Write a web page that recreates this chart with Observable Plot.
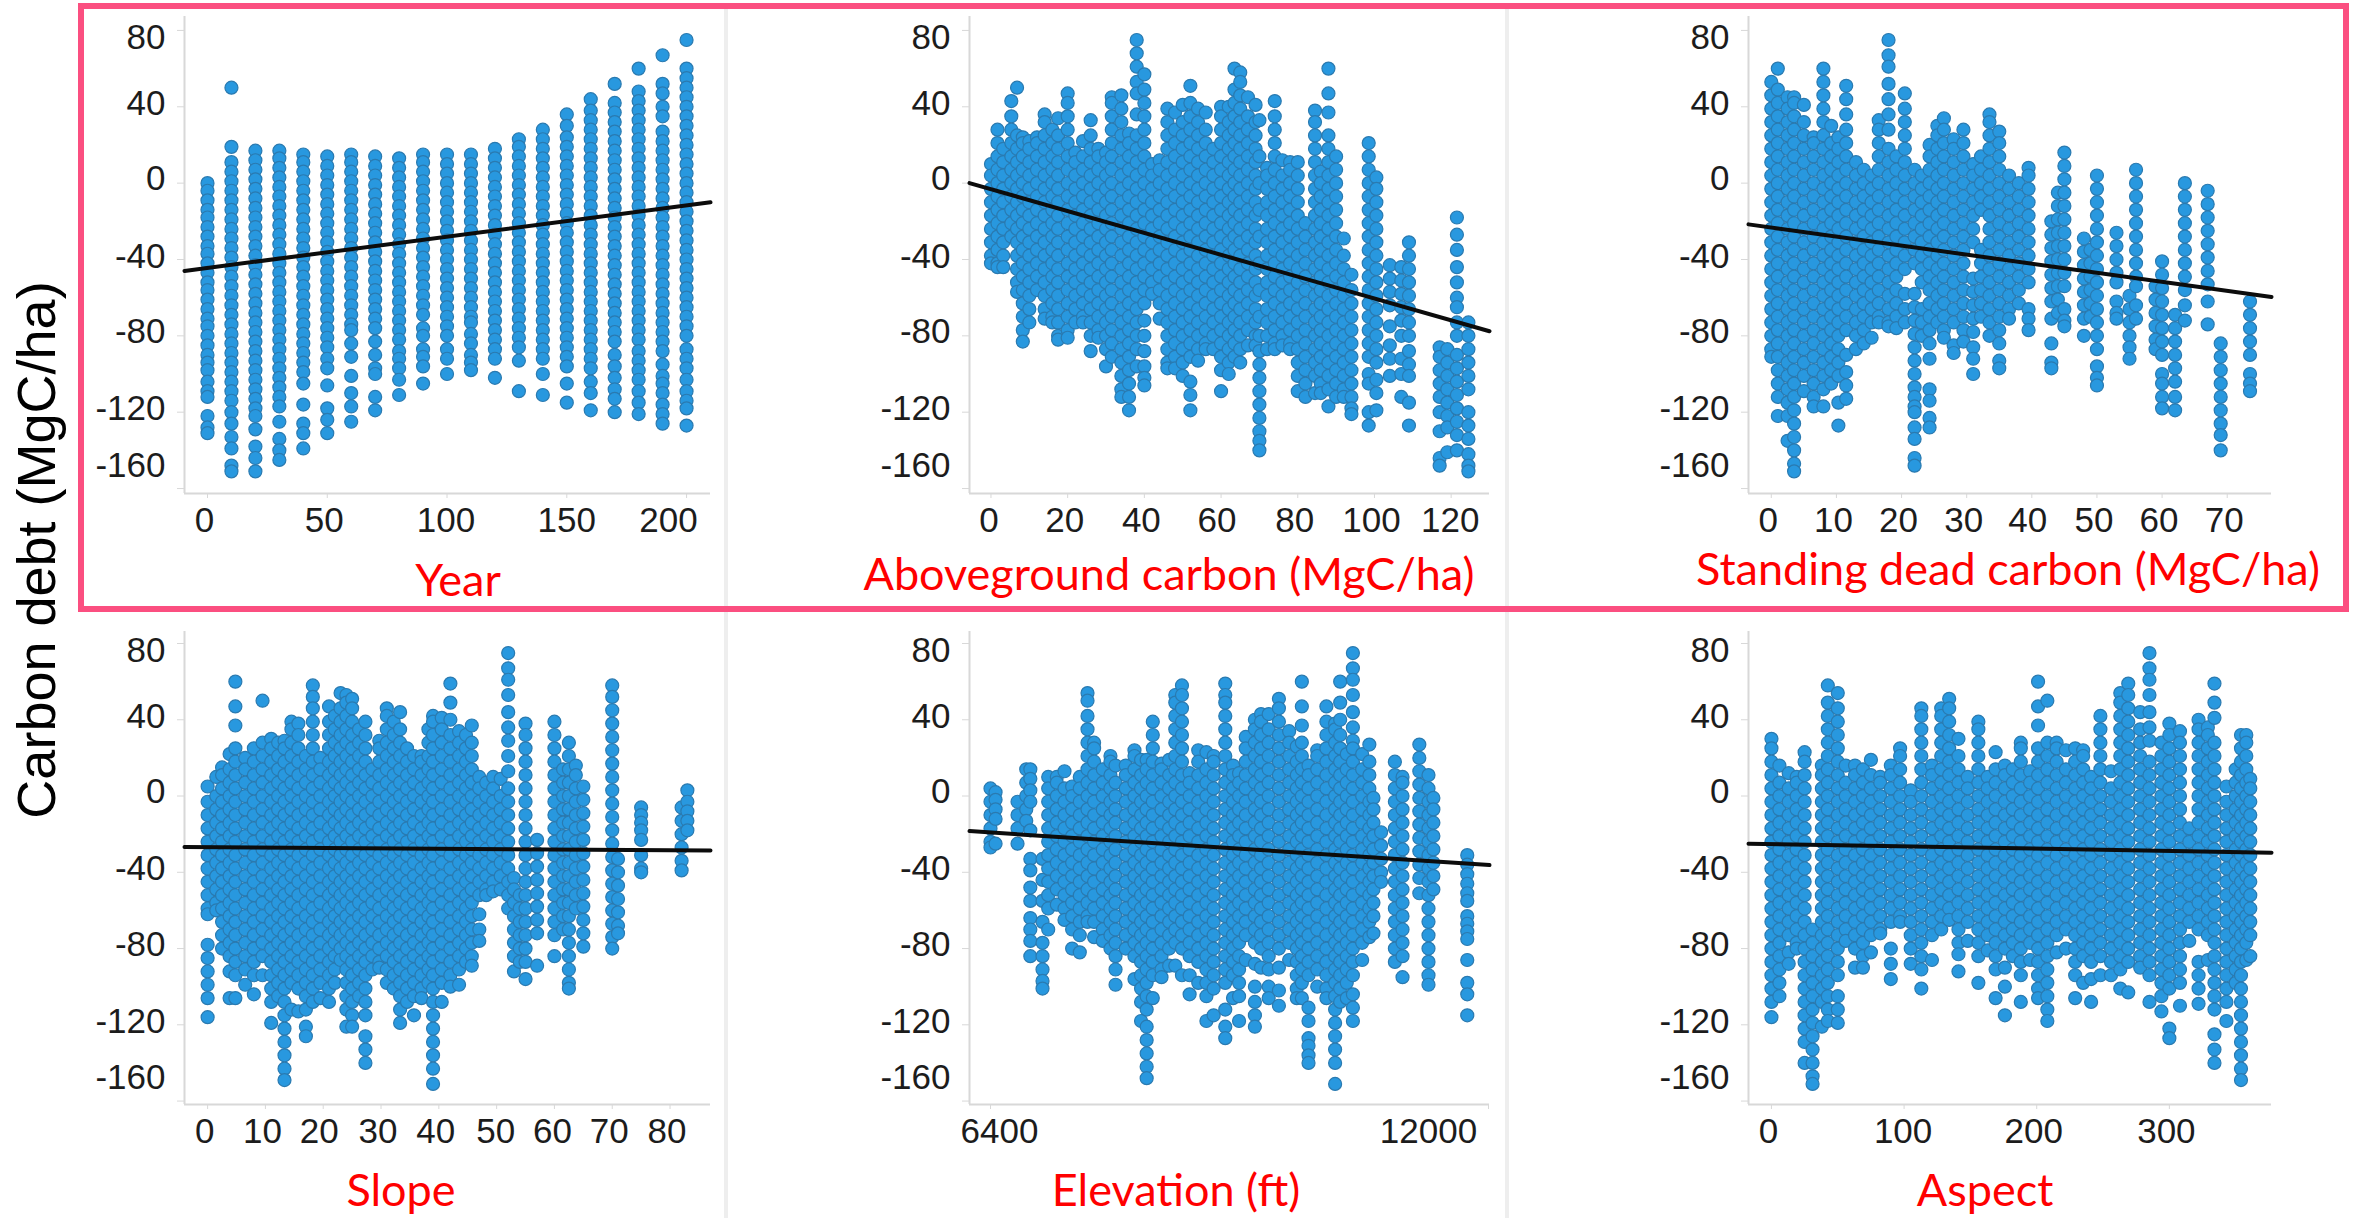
<!DOCTYPE html>
<html><head><meta charset="utf-8">
<script src="https://cdn.jsdelivr.net/npm/d3@7"></script>
<script src="https://cdn.jsdelivr.net/npm/@observablehq/plot@0.6"></script>
<style>
html,body{margin:0;padding:0;background:#fff}
#page{position:relative;width:2356px;height:1218px;overflow:hidden;background:#fff}
#page svg{position:absolute;overflow:visible;background:transparent}
.sep{position:absolute;width:4px;background:#eeeeee}
.frame{position:absolute;border:6px solid #fb4f80;box-sizing:border-box;pointer-events:none}
.ttl{position:absolute;transform:translate(-50%,-50%);color:#ff0000;font-family:Lato,sans-serif;white-space:nowrap}
.ylab{position:absolute;left:36px;top:550px;transform:translate(-50%,-50%) rotate(-90deg);font-family:"Liberation Sans",sans-serif;font-size:54px;color:#000;white-space:nowrap}
</style></head><body><div id="page"></div>
<script>
const yTicks=[80,40,0,-40,-80,-120,-160];
const yLabelShift=[7,-3,-4,-3,-4,-3,-23];
const yearTicks=[0,50,100,150,200];
const agcTicks=[0,20,40,60,80,100,120];
const sdcTicks=[0,10,20,30,40,50,60,70];
const slopeTicks=[0,10,20,30,40,50,60,70,80];
const elevTicks=[6400,12000];
const aspectTicks=[0,100,200,300];
const yearLine=[[-9.6,-46],[210,-10]];
const agcLine=[[-5.6,0],[130,-77.6]];
const sdcLine=[[-3.5,-21.6],[76.8,-59.6]];
const slopeLine=[[-4,-26.7],[87,-28.6]];
const elevLine=[[6164,-18.4],[12011,-36.2]];
const aspectLine=[[-17.3,-25],[377,-29.7]];

const yearCols=[
[0,[0,-4,-9,-14,-18,-23,-28,-33,-37,-42,-47,-52,-56,-61,-66,-71,-75,-80,-85,-90,-94,-98,-104,-109,-112,-122,-128,-131]],
[10,[50,19,11,6,1,-4,-9,-14,-19,-24,-29,-34,-39,-44,-49,-54,-59,-64,-69,-74,-79,-84,-89,-94,-99,-104,-109,-114,-120,-126,-133,-139,-148,-151]],
[20,[17,12,7,2,-3,-8,-13,-18,-23,-28,-33,-38,-43,-48,-53,-58,-63,-68,-73,-78,-83,-88,-93,-98,-103,-108,-113,-118,-122,-129,-138,-144,-151]],
[30,[17,13,8,3,-2,-7,-12,-17,-22,-27,-32,-37,-42,-47,-52,-57,-62,-67,-72,-77,-82,-87,-92,-97,-102,-107,-112,-117,-125,-134,-140,-145]],
[40,[15,11,6,1,-4,-9,-14,-19,-24,-29,-34,-39,-44,-49,-54,-59,-64,-69,-74,-79,-84,-89,-94,-99,-105,-116,-126,-131,-139]],
[50,[14,9,4,-1,-6,-11,-16,-21,-26,-31,-36,-41,-46,-51,-56,-61,-66,-71,-76,-81,-86,-92,-97,-106,-118,-124,-131]],
[60,[15,11,6,1,-4,-9,-14,-19,-24,-29,-34,-39,-44,-49,-54,-59,-64,-69,-74,-77,-84,-91,-101,-110,-117,-125]],
[70,[14,9,4,-1,-6,-11,-16,-21,-26,-31,-36,-41,-46,-51,-56,-61,-66,-71,-76,-83,-90,-97,-100,-112,-119]],
[80,[13,8,3,-2,-7,-12,-17,-22,-27,-32,-37,-42,-47,-52,-57,-62,-67,-72,-77,-82,-88,-92,-97,-103,-111]],
[90,[15,11,6,1,-4,-9,-14,-19,-24,-29,-34,-39,-44,-49,-54,-59,-64,-69,-76,-80,-87,-91,-96,-105]],
[100,[15,10,5,0,-5,-10,-15,-20,-25,-30,-35,-40,-45,-50,-55,-60,-65,-70,-75,-80,-87,-92,-100]],
[110,[15,10,5,0,-5,-10,-15,-20,-25,-30,-35,-40,-45,-50,-55,-60,-65,-70,-73,-79,-84,-90,-94,-98]],
[120,[18,13,8,3,-2,-7,-12,-17,-22,-27,-32,-37,-42,-47,-52,-57,-62,-67,-72,-77,-82,-87,-92,-102]],
[130,[23,19,14,9,4,-1,-6,-11,-16,-21,-26,-31,-36,-41,-46,-51,-56,-61,-66,-71,-76,-81,-86,-93,-109]],
[140,[28,23,18,13,8,3,-2,-7,-12,-17,-22,-27,-32,-37,-42,-47,-52,-57,-62,-67,-72,-77,-82,-87,-92,-100,-111]],
[150,[36,30,24,19,14,9,4,-1,-6,-11,-16,-21,-26,-31,-36,-41,-46,-51,-56,-61,-66,-71,-76,-81,-86,-91,-96,-105,-115]],
[160,[44,38,33,28,23,18,13,8,3,-2,-7,-12,-17,-22,-27,-32,-37,-42,-47,-52,-57,-62,-67,-72,-77,-82,-87,-92,-97,-104,-110,-119]],
[170,[52,42,37,32,27,22,17,12,7,2,-3,-8,-13,-18,-23,-28,-33,-38,-43,-48,-53,-58,-63,-68,-73,-78,-83,-90,-96,-102,-108,-113,-120]],
[180,[60,48,43,38,33,28,23,18,13,8,3,-2,-7,-12,-17,-22,-27,-32,-37,-42,-47,-52,-57,-62,-67,-72,-77,-82,-88,-93,-98,-103,-109,-115,-121]],
[190,[67,52,47,40,35,27,22,17,12,7,2,-3,-8,-13,-18,-23,-28,-33,-38,-43,-48,-53,-58,-63,-68,-73,-78,-83,-88,-95,-101,-105,-110,-116,-121,-126]],
[200,[75,60,55,50,45,40,35,30,25,20,15,10,5,0,-5,-10,-15,-20,-25,-30,-35,-40,-45,-50,-55,-60,-65,-70,-75,-80,-87,-92,-97,-103,-109,-114,-118,-127]]
];

const agcCols=[
[0,[10,4,-3,-10,-17,-24,-31,-38,-42]],
[1.7,[28,21,14,7,0,-7,-14,-21,-28,-35,-42,-44]],
[3.2,[18,11,4,-3,-10,-17,-24,-31,-38,-44]],
[5.3,[43,35,28,21,14,7,0,-7,-14,-21,-28]],
[6.8,[50,25,18,11,4,-3,-10,-17,-24,-31,-38,-45,-52,-57]],
[8.3,[24,21,14,7,0,-7,-14,-21,-28,-35,-42,-49,-56,-63,-70,-77,-83]],
[10,[22,18,11,4,-3,-10,-17,-24,-31,-38,-45,-52,-59,-66,-73]],
[12,[24,21,14,7,0,-7,-14,-21,-28,-35,-42,-49,-56]],
[14,[36,32,25,18,11,4,-3,-10,-17,-24,-31,-38,-45,-52,-59,-66,-71]],
[16,[28,21,14,7,0,-7,-14,-21,-28,-35,-42,-49,-56,-63,-70,-73]],
[17.5,[34,25,18,11,4,-3,-10,-17,-24,-31,-38,-45,-52,-59,-66,-73,-80,-82]],
[20,[47,42,35,28,21,14,7,0,-7,-14,-21,-28,-35,-42,-49,-56,-63,-70,-77,-81]],
[22,[16,11,4,-3,-10,-17,-24,-31,-38,-45,-52,-59,-66,-73]],
[24,[22,14,7,0,-7,-14,-21,-28,-35,-42,-49,-56,-63,-70,-73]],
[26,[33,25,18,11,4,-3,-10,-17,-24,-31,-38,-45,-52,-59,-66,-73,-80,-88]],
[28,[18,14,7,0,-7,-14,-21,-28,-35,-42,-49,-56,-63,-70,-77,-81]],
[30,[16,11,4,-3,-10,-17,-24,-31,-38,-45,-52,-59,-66,-73,-80,-87,-96]],
[31.5,[45,42,35,28,21,14,7,0,-7,-14,-21,-28,-35,-42,-49,-56,-63,-70,-77,-84,-91]],
[34,[46,39,32,25,18,11,4,-3,-10,-17,-24,-31,-38,-45,-52,-59,-66,-73,-80,-87,-94,-101,-108,-112]],
[36,[26,21,14,7,0,-7,-14,-21,-28,-35,-42,-49,-56,-63,-70,-77,-84,-91,-98,-105,-112,-119]],
[38,[75,68,61,53,47,36,25,18,11,4,-3,-10,-17,-24,-31,-38,-45,-52,-59,-66,-73,-80,-87,-96]],
[40,[57,49,42,35,28,21,14,7,0,-7,-14,-21,-28,-35,-42,-49,-56,-63,-72,-80,-88,-96,-102,-106]],
[42,[10,4,-3,-10,-17,-24,-31,-38,-45,-52,-58]],
[44,[12,7,0,-7,-14,-21,-28,-35,-42,-49,-56,-63,-71]],
[46,[39,32,25,18,11,4,-3,-10,-17,-24,-31,-38,-45,-52,-59,-66,-73,-80,-87,-94,-97]],
[48,[37,28,21,14,7,0,-7,-14,-21,-28,-35,-42,-49,-56,-63,-70,-77,-84,-91,-97]],
[50,[41,32,25,18,11,4,-3,-10,-17,-24,-31,-38,-45,-52,-59,-66,-73,-80,-87,-94,-101]],
[52,[51,42,35,28,21,14,7,0,-7,-14,-21,-28,-35,-42,-49,-56,-63,-70,-77,-84,-91,-104,-111,-119]],
[54,[39,32,25,18,11,4,-3,-10,-17,-24,-31,-38,-45,-52,-59,-66,-73,-80,-87,-93]],
[56,[37,28,21,14,7,0,-7,-14,-21,-28,-35,-42,-49,-56,-63,-70,-77,-84,-87]],
[58,[18,11,4,-3,-10,-17,-24,-31,-38,-45,-52,-59,-66,-73,-80,-87]],
[60,[40,35,28,21,14,7,0,-7,-14,-21,-28,-35,-42,-49,-56,-63,-70,-77,-84,-91,-98,-109]],
[62,[40,32,25,18,11,4,-3,-10,-17,-24,-31,-38,-45,-52,-59,-66,-73,-80,-87,-94,-100]],
[63.5,[60,49,42,35,28,21,14,7,0,-7,-14,-21,-28,-35,-42,-49,-56,-63,-70,-77,-84,-91]],
[65,[58,53,46,39,32,25,18,11,4,-3,-10,-17,-24,-31,-38,-45,-52,-59,-66,-73,-80,-87,-94]],
[67,[45,35,28,21,14,7,0,-7,-14,-21,-28,-35,-42,-49,-56,-63,-70,-77,-85]],
[69,[41,32,25,18,11,4,-3,-10,-17,-24,-31,-38,-45,-52,-59,-66,-73,-80,-85]],
[70,[33,14,0,-14,-28,-42,-56,-70,-80,-88,-95,-102,-109,-116,-123,-130,-135,-140]],
[72,[8,4,-3,-10,-17,-24,-31,-38,-45,-52,-59,-66,-73,-80,-87]],
[74,[43,35,28,21,14,7,0,-7,-14,-21,-28,-35,-42,-49,-56,-63,-70,-77,-84,-87]],
[76,[12,4,-3,-10,-17,-24,-31,-38,-45,-52,-59,-66,-73,-80,-85]],
[78,[11,7,0,-7,-14,-21,-28,-35,-42,-49,-56,-63,-70,-77,-84,-87]],
[80,[11,4,-3,-10,-17,-24,-31,-38,-45,-52,-59,-66,-73,-80,-87,-94,-101,-109]],
[82,[-21,-28,-35,-42,-49,-56,-63,-70,-77,-84,-91,-98,-105,-112]],
[84.5,[38,32,25,18,11,4,-3,-10,-17,-24,-31,-38,-45,-52,-59,-66,-73,-80,-87,-94,-101,-110]],
[86,[6,0,-7,-14,-21,-28,-35,-42,-49,-56,-63,-70,-77,-84,-91,-98,-105,-110]],
[88,[60,47,37,25,18,11,4,-3,-10,-17,-24,-31,-38,-45,-52,-59,-66,-73,-80,-87,-94,-101,-108,-117]],
[90,[14,7,0,-7,-14,-21,-28,-35,-42,-49,-56,-63,-70,-77,-84,-91,-98,-105,-112]],
[92,[-29,-38,-45,-52,-59,-66,-73,-80,-87,-94,-101,-108,-112]],
[94,[-48,-56,-63,-70,-77,-84,-91,-98,-105,-112,-118,-121]],
[98.5,[21,14,7,0,-7,-14,-21,-28,-35,-42,-49,-56,-63,-70,-77,-84,-91,-100,-105,-120,-127]],
[100.5,[3,-3,-10,-17,-24,-31,-38,-45,-52,-59,-66,-73,-80,-87,-94,-103,-110,-119]],
[104,[-43,-50,-57,-64,-75,-85,-92,-101]],
[107,[-44,-51,-58,-65,-72,-80,-92,-100,-112]],
[109,[-31,-38,-45,-52,-59,-66,-73,-80,-88,-95,-101,-115,-127]],
[117,[-86,-91,-98,-105,-112,-120,-130,-144,-148]],
[119,[-87,-94,-101,-108,-115,-122,-128,-141]],
[121.5,[-18,-27,-35,-44,-52,-60,-65,-73,-80,-90,-97,-104,-111,-118,-125,-132,-140]],
[124.5,[-73,-80,-87,-94,-101,-108,-120,-127,-134,-142,-148,-151]]
];

const sdcCols=[
[0,[53,46,39,32,25,18,11,4,-3,-10,-17,-24,-31,-38,-45,-52,-59,-66,-73,-80,-87,-91]],
[1,[60,49,42,35,28,21,14,7,0,-7,-14,-21,-28,-35,-42,-49,-56,-63,-70,-77,-84,-91,-98,-105,-112,-122]],
[2.5,[45,39,32,25,18,11,4,-3,-10,-17,-24,-31,-38,-45,-52,-59,-66,-73,-80,-87,-94,-101,-108,-115,-122,-135]],
[3.5,[45,42,35,28,21,14,7,0,-7,-14,-21,-28,-35,-42,-49,-56,-63,-70,-77,-84,-91,-98,-105,-112,-119,-126,-133,-140,-147,-151]],
[5,[41,32,25,18,11,4,-3,-10,-17,-24,-31,-38,-45,-52,-59,-66,-73,-80,-87,-94,-101,-109]],
[6.5,[24,21,14,7,0,-7,-14,-21,-28,-35,-42,-49,-56,-63,-70,-77,-84,-91,-98,-105,-112,-117]],
[8,[60,53,46,39,32,25,18,11,4,-3,-10,-17,-24,-31,-38,-45,-52,-59,-66,-73,-80,-87,-94,-101,-108,-117]],
[9.2,[30,21,14,7,0,-7,-14,-21,-28,-35,-42,-49,-56,-63,-70,-77,-84,-91,-98,-105]],
[10.3,[24,18,11,4,-3,-10,-17,-24,-31,-38,-45,-52,-59,-66,-73,-80,-87,-94,-101,-115,-127]],
[11.5,[51,44,36,28,21,14,7,0,-7,-14,-21,-28,-35,-42,-49,-56,-63,-70,-77,-90,-99,-106,-113]],
[13,[11,4,-3,-10,-17,-24,-31,-38,-45,-52,-59,-66,-73,-80,-87]],
[14.2,[7,0,-7,-14,-21,-28,-35,-42,-49,-56,-63,-70,-77,-84]],
[15.4,[4,-3,-10,-17,-24,-31,-38,-45,-52,-59,-66,-73,-81]],
[16.5,[33,28,21,14,7,0,-7,-14,-21,-28,-35,-42,-49,-56,-63,-70,-73]],
[18,[75,67,61,52,44,36,28,18,11,4,-3,-10,-17,-24,-31,-38,-45,-52,-59,-66,-73,-75]],
[19.2,[14,7,0,-7,-14,-21,-28,-35,-42,-49,-56,-63,-70,-76]],
[20.5,[47,39,32,25,18,11,4,-3,-10,-17,-24,-31,-38,-45,-58,-66,-73]],
[22,[7,0,-7,-14,-21,-28,-35,-42,-58,-65,-72,-79,-86,-93,-100,-107,-112,-117,-120,-128,-134,-144,-148]],
[23.1,[4,-3,-10,-17,-24,-31,-38,-45,-52,-66,-73,-80]],
[24.3,[20,14,7,0,-7,-14,-21,-28,-35,-42,-49,-56,-63,-70,-77,-84,-92,-108,-114,-123,-128]],
[25.5,[30,25,18,11,4,-3,-10,-17,-24,-31,-38,-45,-52,-59,-66,-73]],
[26.5,[34,28,21,14,7,0,-7,-14,-21,-28,-35,-42,-49,-56,-63,-70,-77,-81]],
[28,[23,18,11,4,-3,-10,-17,-24,-31,-38,-45,-52,-59,-66,-73,-85,-89]],
[29.5,[28,21,14,7,0,-7,-14,-21,-28,-35,-42,-49,-56,-63,-70,-77,-83]],
[31,[10,4,-3,-10,-17,-24,-31,-50,-57,-64,-71,-78,-86,-92,-100]],
[32.2,[14,7,0,-7,-14,-35,-42,-49,-56,-63,-70]],
[33.5,[36,32,25,18,11,4,-3,-10,-17,-24,-31,-38,-45,-52,-59,-66,-73,-80]],
[35,[27,21,14,7,0,-7,-14,-21,-28,-35,-42,-49,-56,-63,-70,-77,-84,-93,-97]],
[36.5,[4,-3,-10,-17,-24,-31,-38,-45,-52,-59,-66,-71]],
[38,[0,-7,-14,-21,-28,-35,-42,-49,-56,-63]],
[39.5,[8,4,-3,-10,-17,-24,-31,-38,-45,-52,-66,-71,-77]],
[43,[-20,-27,-34,-41,-48,-55,-62,-71,-84,-94,-97]],
[44,[-5,-12,-19,-26,-33,-40,-47,-54,-61,-68]],
[45,[16,9,2,-5,-12,-19,-26,-33,-40,-47,-54,-66,-72,-75]],
[48,[-29,-36,-43,-50,-57,-64,-71,-80]],
[49,[-35,-42,-49,-56,-63,-70]],
[50,[4,-3,-10,-17,-24,-31,-38,-45,-52,-59,-66,-73,-80,-87,-96,-102,-106]],
[53,[-26,-33,-40,-47,-52,-62,-68,-71]],
[55,[-59,-66,-73,-80,-86,-92]],
[56,[7,0,-7,-14,-21,-28,-35,-42,-49,-54,-64,-71]],
[59,[-54,-61,-68,-75,-82,-87]],
[60,[-41,-48,-55,-62,-69,-76,-83,-90,-100,-105,-112,-118]],
[62,[-69,-76,-83,-90,-97,-104,-112,-119]],
[63.5,[0,-7,-14,-21,-28,-35,-42,-49,-56,-64,-72]],
[67,[-4,-11,-18,-25,-32,-39,-46,-53,-62,-74]],
[69,[-84,-91,-98,-105,-112,-119,-126,-132,-140]],
[73.5,[-62,-69,-76,-83,-90,-100,-105,-109]]
];

const slopeCols=[
[0,[5,-3,-10,-17,-24,-31,-38,-45,-52,-59,-62,-78,-85,-92,-99,-106,-116]],
[1.5,[10,0,-7,-14,-21,-28,-35,-42,-49,-56,-60]],
[2.5,[15,11,4,-3,-10,-17,-24,-31,-38,-45,-52,-59,-66,-73,-80]],
[3.8,[22,14,7,0,-7,-14,-21,-28,-35,-42,-49,-56,-63,-70,-77,-84,-92,-106]],
[4.8,[60,47,37,25,18,11,4,-3,-10,-17,-24,-31,-38,-45,-52,-59,-66,-73,-80,-87,-94,-106]],
[6.5,[20,14,7,0,-7,-14,-21,-28,-35,-42,-49,-56,-63,-70,-77,-84,-91,-99]],
[8,[25,18,11,4,-3,-10,-17,-24,-31,-38,-45,-52,-59,-66,-73,-80,-87,-94,-104]],
[9.5,[50,28,21,14,7,0,-7,-14,-21,-28,-35,-42,-49,-56,-63,-70,-77,-84,-94]],
[11,[30,25,18,11,4,-3,-10,-17,-24,-31,-38,-45,-52,-59,-66,-73,-80,-87,-94,-101,-108,-119]],
[12.2,[28,21,14,7,0,-7,-14,-21,-28,-35,-42,-49,-56,-63,-70,-77,-84,-91,-98,-105]],
[13.3,[29,25,18,11,4,-3,-10,-17,-24,-31,-38,-45,-52,-59,-66,-73,-80,-87,-94,-101,-108,-115,-122,-129,-136,-143,-149]],
[14.5,[39,35,28,21,14,7,0,-7,-14,-21,-28,-35,-42,-49,-56,-63,-70,-77,-84,-91,-98,-112]],
[15.7,[38,32,25,18,11,4,-3,-10,-17,-24,-31,-38,-45,-52,-59,-66,-73,-80,-87,-94,-101,-113]],
[17,[21,14,7,0,-7,-14,-21,-28,-35,-42,-49,-56,-63,-70,-77,-84,-91,-98,-105,-112,-121,-126]],
[18.2,[58,52,46,39,32,25,18,11,4,-3,-10,-17,-24,-31,-38,-45,-52,-59,-66,-73,-80,-87,-94,-101,-108]],
[19.5,[20,14,7,0,-7,-14,-21,-28,-35,-42,-49,-56,-63,-70,-77,-84,-91,-98,-106]],
[21,[47,39,32,25,18,11,4,-3,-10,-17,-24,-31,-38,-45,-52,-59,-66,-73,-80,-87,-94,-101,-108]],
[22,[42,35,28,21,14,7,0,-7,-14,-21,-28,-35,-42,-49,-56,-63,-70,-77,-84,-91,-98]],
[23,[54,46,39,32,25,18,11,4,-3,-10,-17,-24,-31,-38,-45,-52,-59,-66,-73,-80,-86]],
[24,[53,49,42,35,28,21,14,7,0,-7,-14,-21,-28,-35,-42,-49,-56,-63,-70,-77,-84,-91,-98,-105,-112,-121]],
[25,[51,46,39,32,25,18,11,4,-3,-10,-17,-24,-31,-38,-45,-52,-59,-66,-73,-80,-87,-94,-101,-108,-115,-121]],
[26.2,[35,28,21,14,7,0,-7,-14,-21,-28,-35,-42,-49,-56,-63,-70,-77,-84,-91,-98,-105]],
[27.3,[39,32,25,18,11,4,-3,-10,-17,-24,-31,-38,-45,-52,-59,-66,-73,-80,-87,-94,-101,-108,-115,-126,-133,-140]],
[28.5,[14,7,0,-7,-14,-21,-28,-35,-42,-49,-56,-63,-70,-77,-84,-91]],
[29.7,[29,25,18,11,4,-3,-10,-17,-24,-31,-38,-45,-52,-59,-66,-73,-80,-87,-90]],
[31,[46,42,35,28,21,14,7,0,-7,-14,-21,-28,-35,-42,-49,-56,-63,-70,-77,-84,-91,-98]],
[32.2,[39,32,25,18,11,4,-3,-10,-17,-24,-31,-38,-45,-52,-59,-66,-73,-80,-87,-94,-101]],
[33.3,[44,35,28,21,14,7,0,-7,-14,-21,-28,-35,-42,-49,-56,-63,-70,-77,-84,-91,-98,-105,-112,-119]],
[34.5,[25,18,11,4,-3,-10,-17,-24,-31,-38,-45,-52,-59,-66,-73,-80,-87,-94,-101,-108]],
[35.7,[21,14,7,0,-7,-14,-21,-28,-35,-42,-49,-56,-63,-70,-77,-84,-91,-98,-105,-115]],
[37,[21,18,11,4,-3,-10,-17,-24,-31,-38,-45,-52,-59,-66,-73,-80,-87,-94,-101,-106]],
[38.2,[35,28,21,14,7,0,-7,-14,-21,-28,-35,-42,-49,-56,-63,-70,-77,-84,-91,-98]],
[39,[42,39,32,25,18,11,4,-3,-10,-17,-24,-31,-38,-45,-52,-59,-66,-73,-80,-87,-94,-101,-108,-115,-122,-129,-136,-143,-151]],
[40.5,[41,35,28,21,14,7,0,-7,-14,-21,-28,-35,-42,-49,-56,-63,-70,-77,-84,-91,-98,-108]],
[42,[59,49,40,32,25,18,11,4,-3,-10,-17,-24,-31,-38,-45,-52,-59,-66,-73,-80,-87,-94,-100]],
[43.5,[34,28,21,14,7,0,-7,-14,-21,-28,-35,-42,-49,-56,-63,-70,-77,-84,-91,-99]],
[44.7,[32,25,18,11,4,-3,-10,-17,-24,-31,-38,-45,-52,-59,-66,-73,-80,-87]],
[45.7,[37,28,21,14,7,0,-7,-14,-21,-28,-35,-42,-49,-56,-63,-70,-77,-84,-89]],
[47,[10,4,-3,-10,-17,-24,-31,-38,-45,-52,-62,-70,-76]],
[48.2,[7,0,-7,-14,-21,-28,-35,-42,-49,-52]],
[49.4,[10,4,-3,-10,-17,-24,-31,-38,-45,-50]],
[50.7,[9,0,-7,-14,-21,-28,-35,-42,-49]],
[52,[75,67,61,53,44,36,29,21,13,4,-3,-10,-17,-24,-31,-38,-45,-52,-59]],
[53,[-43,-49,-56,-63,-70,-77,-84,-92]],
[54,[-52,-59,-66,-73,-80,-87]],
[55,[38,32,25,18,11,4,-3,-10,-17,-24,-31,-38,-45,-52,-59,-66,-73,-80,-87,-96]],
[57,[-23,-30,-37,-44,-51,-58,-65,-72,-89]],
[60,[39,32,25,18,11,4,-3,-10,-17,-24,-31,-38,-45,-52,-59,-66,-73,-84]],
[61.5,[14,7,0,-7,-14,-21,-28,-35,-42,-49,-56,-63,-70]],
[62.5,[28,21,14,7,0,-7,-14,-21,-28,-35,-42,-49,-56,-63,-70,-77,-84,-91,-98,-101]],
[63.7,[16,11,4,-3,-10,-17,-24,-31,-38,-45,-52,-59]],
[65,[5,-2,-9,-16,-23,-30,-37,-44,-51,-58,-65,-72,-79]],
[70,[58,52,45,38,31,24,17,10,3,-4,-11,-18,-25,-32,-39,-46,-53,-60,-67,-74,-80]],
[71,[-33,-40,-47,-54,-61,-68,-72]],
[75,[-6,-10,-14,-18,-23,-31,-38,-40]],
[82,[-6,-13,-20,-27,-34,-39]],
[83,[3,-3,-8,-13,-18]]
];

const elevCols=[
[6400,[4,-3,-10,-17,-24,-27]],
[6457,[2,-2,-7,-12,-25]],
[6704,[-3,-10,-17,-25]],
[6802,[14,7,0,-7,-13]],
[6848,[14,9,3,-3,-18,-33,-39,-48,-55,-64,-70,-76,-84]],
[6985,[-33,-44,-55,-66,-77,-84,-91,-97,-101]],
[7049,[10,4,-3,-10,-17,-24,-31,-38,-45,-52,-59,-70]],
[7146,[10,7,0,-7,-14,-21,-28,-35,-42,-49,-57]],
[7232,[13,4,-3,-10,-17,-24,-31,-38,-45,-52,-59,-65]],
[7318,[5,0,-7,-14,-21,-28,-35,-42,-49,-56,-63,-70,-80]],
[7404,[10,4,-3,-10,-17,-24,-31,-38,-45,-52,-59,-66,-73,-82]],
[7491,[54,50,42,35,28,21,14,7,0,-7,-14,-21,-28,-35,-42,-49,-56,-63,-66]],
[7565,[28,25,18,11,4,-3,-10,-17,-24,-31,-38,-45,-52,-59,-66,-74]],
[7663,[14,7,0,-7,-14,-21,-28,-35,-42,-49,-56,-63,-70,-76]],
[7749,[21,18,11,4,-3,-10,-17,-24,-31,-38,-45,-52,-59,-66,-73,-80]],
[7806,[16,7,0,-7,-14,-21,-28,-35,-42,-49,-56,-63,-70,-77,-84,-91,-99]],
[7921,[16,11,4,-3,-10,-17,-24,-31,-38,-45,-52,-59,-66,-73,-80]],
[8019,[24,21,14,7,0,-7,-14,-21,-28,-35,-42,-49,-56,-63,-70,-77,-84,-96]],
[8093,[19,11,4,-3,-10,-17,-24,-31,-38,-45,-52,-59,-66,-73,-80,-87,-94,-101,-108,-118]],
[8156,[19,14,7,0,-7,-14,-21,-28,-35,-42,-49,-56,-63,-70,-77,-84,-91,-98,-105,-112,-121,-128,-135,-142,-148]],
[8225,[39,32,25,18,11,4,-3,-10,-17,-24,-31,-38,-45,-52,-59,-66,-73,-80,-87,-94,-106]],
[8323,[17,14,7,0,-7,-14,-21,-28,-35,-42,-49,-56,-63,-70,-77,-84,-91,-95]],
[8409,[19,11,4,-3,-10,-17,-24,-31,-38,-45,-52,-59,-66,-73,-80,-89]],
[8478,[53,49,42,35,28,21,14,7,0,-7,-14,-21,-28,-35,-42,-49,-56,-63,-70,-77,-89]],
[8553,[58,53,46,39,32,25,18,11,4,-3,-10,-17,-24,-31,-38,-45,-52,-59,-66,-73,-80,-94]],
[8639,[12,7,0,-7,-14,-21,-28,-35,-42,-49,-56,-63,-70,-77,-84,-94,-104]],
[8736,[24,18,11,4,-3,-10,-17,-24,-31,-38,-45,-52,-59,-66,-73,-80,-87,-98]],
[8828,[23,14,7,0,-7,-14,-21,-28,-35,-42,-49,-56,-63,-70,-77,-84,-91,-98,-105,-118]],
[8909,[21,18,11,4,-3,-10,-17,-24,-31,-38,-45,-52,-59,-66,-73,-80,-87,-94,-101,-115]],
[9040,[59,53,49,42,35,28,21,14,7,0,-7,-14,-21,-28,-35,-42,-49,-56,-63,-70,-77,-84,-91,-98,-112,-121,-127]],
[9127,[16,11,4,-3,-10,-17,-24,-31,-38,-45,-52,-59,-66,-73,-80,-87,-94,-106]],
[9195,[12,7,0,-7,-14,-21,-28,-35,-42,-49,-56,-63,-70,-77,-84,-91,-98,-105,-118]],
[9270,[31,25,18,11,4,-3,-10,-17,-24,-31,-38,-45,-52,-59,-66,-73,-86]],
[9373,[40,35,28,21,14,7,0,-7,-14,-21,-28,-35,-42,-49,-56,-63,-70,-77,-88,-100,-108,-115,-121]],
[9442,[43,39,32,25,18,11,4,-3,-10,-17,-24,-31,-38,-45,-52,-59,-66,-73,-80,-90]],
[9528,[43,35,28,21,14,7,0,-7,-14,-21,-28,-35,-42,-49,-56,-63,-70,-77,-84,-91,-100,-106]],
[9643,[51,46,39,32,25,18,11,4,-3,-10,-17,-24,-31,-38,-45,-52,-59,-66,-73,-80,-90,-102,-110]],
[9758,[34,28,21,14,7,0,-7,-14,-21,-28,-35,-42,-49,-56,-63,-70,-77,-86]],
[9844,[26,18,11,4,-3,-10,-17,-24,-31,-38,-45,-52,-59,-66,-73,-80,-87,-94,-101,-106]],
[9901,[60,47,37,28,21,14,7,0,-7,-14,-21,-28,-35,-42,-49,-56,-63,-70,-77,-84,-91,-98,-106]],
[9976,[16,11,4,-3,-10,-17,-24,-31,-38,-45,-52,-59,-66,-73,-80,-87,-94,-111,-118,-127,-131,-136,-140]],
[10074,[24,21,14,7,0,-7,-14,-21,-28,-35,-42,-49,-56,-63,-70,-77,-84,-91,-100]],
[10177,[47,39,32,25,18,11,4,-3,-10,-17,-24,-31,-38,-45,-52,-59,-66,-73,-80,-87,-94,-101,-106]],
[10275,[38,35,28,21,14,7,0,-7,-14,-21,-28,-35,-42,-49,-56,-63,-70,-77,-84,-91,-98,-105,-112,-119,-126,-133,-140,-151]],
[10332,[60,49,40,32,25,18,11,4,-3,-10,-17,-24,-31,-38,-45,-52,-59,-66,-73,-80,-87,-94,-101,-108]],
[10406,[22,14,7,0,-7,-14,-21,-28,-35,-42,-49,-56,-63,-70,-77,-84,-91,-98,-106]],
[10475,[75,67,61,53,44,36,29,25,18,11,4,-3,-10,-17,-24,-31,-38,-45,-52,-59,-66,-73,-80,-87,-94,-104,-111,-118]],
[10579,[22,14,7,0,-7,-14,-21,-28,-35,-42,-49,-56,-63,-70,-77,-86]],
[10660,[27,18,11,4,-3,-10,-17,-24,-31,-38,-45,-52,-59,-66,-74]],
[10706,[-1,-7,-14,-21,-28,-35,-42,-49,-56,-63,-72]],
[10792,[-19,-26,-33,-40,-45]],
[10947,[18,11,4,-3,-10,-17,-24,-31,-38,-45,-52,-59,-66,-73,-80,-87]],
[11033,[10,7,0,-7,-14,-21,-28,-35,-42,-49,-56,-63,-70,-77,-84,-95]],
[11222,[27,20,13,6,-1,-8,-15,-22,-29,-36,-43,-51]],
[11325,[11,4,-3,-10,-17,-24,-31,-38,-45,-52,-59,-66,-73,-80,-87,-94,-99]],
[11380,[-1,-7,-14,-21,-28,-35,-42,-49]],
[11761,[-31,-36,-41,-46,-51,-55,-63,-67,-71,-75,-86,-98,-104,-115]]
];

const aspectCols=[
[0,[30,25,18,11,4,-3,-10,-17,-24,-31,-38,-45,-52,-59,-66,-73,-80,-87,-94,-101,-108,-116]],
[6,[16,7,0,-7,-14,-21,-28,-35,-42,-49,-56,-63,-70,-77,-84,-91,-98,-105]],
[13,[12,4,-3,-10,-17,-24,-31,-38,-45,-52,-59,-66,-73,-82,-88]],
[19,[10,7,0,-7,-14,-21,-28,-35,-42,-49,-56,-63,-70,-77,-80]],
[25,[23,18,11,4,-3,-10,-17,-24,-31,-38,-45,-52,-59,-66,-73,-80,-87,-94,-101,-108,-115,-122,-129,-140]],
[31,[-70,-77,-84,-91,-98,-105,-112,-119,-126,-133,-140,-147,-151]],
[38,[16,11,4,-3,-10,-17,-24,-31,-38,-45,-52,-59,-66,-73,-80,-87,-94,-101,-108,-121]],
[42.5,[58,49,42,35,28,21,14,7,0,-7,-14,-21,-28,-35,-42,-49,-56,-63,-70,-77,-84,-91,-98,-105,-112,-118]],
[50,[54,46,39,32,25,18,11,4,-3,-10,-17,-24,-31,-38,-45,-52,-59,-66,-73,-80,-87,-94,-105,-112,-119]],
[56,[16,7,0,-7,-14,-21,-28,-35,-42,-49,-56,-63,-70,-76]],
[63,[16,11,4,-3,-10,-17,-24,-31,-38,-45,-52,-59,-66,-73,-80,-90]],
[69,[14,7,0,-7,-14,-21,-28,-35,-42,-49,-56,-63,-70,-77,-84,-90]],
[75,[19,11,4,-3,-10,-17,-24,-31,-38,-45,-52,-59,-66,-73,-82]],
[82,[10,7,0,-7,-14,-21,-28,-35,-42,-49,-56,-63,-70,-72]],
[90,[16,11,4,-3,-10,-17,-24,-31,-38,-45,-52,-59,-66,-80,-88,-96]],
[97,[25,21,14,7,0,-7,-14,-21,-28,-35,-42,-49,-56,-63,-66]],
[105,[3,-3,-10,-17,-24,-31,-38,-45,-52,-59,-66,-73,-80,-88]],
[113,[46,42,35,28,21,14,7,0,-7,-14,-21,-28,-35,-42,-49,-56,-63,-70,-77,-84,-91,-101]],
[121,[16,11,4,-3,-10,-17,-24,-31,-38,-45,-52,-59,-66,-73,-86]],
[128,[46,42,35,28,21,14,7,0,-7,-14,-21,-28,-35,-42,-49,-56,-63,-70]],
[134,[51,46,39,32,25,18,11,4,-3,-10,-17,-24,-31,-38,-45,-52,-59,-65]],
[141,[30,21,14,7,0,-7,-14,-21,-28,-35,-42,-49,-56,-63,-70,-77,-83,-92]],
[148,[10,4,-3,-10,-17,-24,-31,-38,-45,-52,-59,-66,-76]],
[156,[39,35,28,21,14,7,0,-7,-14,-21,-28,-35,-42,-49,-56,-63,-70,-77,-84,-98]],
[163,[10,4,-3,-10,-17,-24,-31,-38,-45,-52,-59,-66,-73,-81]],
[169,[23,14,7,0,-7,-14,-21,-28,-35,-42,-49,-56,-63,-70,-77,-84,-91,-106]],
[176,[16,11,4,-3,-10,-17,-24,-31,-38,-45,-52,-59,-66,-73,-80,-90,-100,-115]],
[182,[14,7,0,-7,-14,-21,-28,-35,-42,-49,-56,-63,-70,-77,-84]],
[188,[28,25,18,11,4,-3,-10,-17,-24,-31,-38,-45,-52,-59,-66,-73,-80,-87,-94,-108]],
[195,[13,7,0,-7,-14,-21,-28,-35,-42,-49,-56,-63,-70,-77,-86]],
[201,[60,47,37,25,18,11,4,-3,-10,-17,-24,-31,-38,-45,-52,-59,-66,-73,-80,-87,-94,-101,-106]],
[208,[50,28,21,14,7,0,-7,-14,-21,-28,-35,-42,-49,-56,-63,-70,-77,-84,-91,-98,-105,-112,-118]],
[215,[28,25,18,11,4,-3,-10,-17,-24,-31,-38,-45,-52,-59,-66,-73,-82]],
[222,[24,14,7,0,-7,-14,-21,-28,-35,-42,-49,-56,-63,-70,-80]],
[229,[25,18,11,4,-3,-10,-17,-24,-31,-38,-45,-52,-59,-66,-73,-80,-87,-94,-106]],
[235,[24,21,14,7,0,-7,-14,-21,-28,-35,-42,-49,-56,-63,-70,-77,-84,-98]],
[241,[10,4,-3,-10,-17,-24,-31,-38,-45,-52,-59,-66,-73,-80,-87,-96,-108]],
[248,[42,35,28,21,14,7,0,-7,-14,-21,-28,-35,-42,-49,-56,-63,-70,-77,-84,-94]],
[256,[13,4,-3,-10,-17,-24,-31,-38,-45,-52,-59,-66,-73,-80,-87,-94]],
[263,[54,49,42,35,28,21,14,7,0,-7,-14,-21,-28,-35,-42,-49,-56,-63,-70,-77,-84,-91,-101]],
[269,[59,53,46,39,32,25,18,11,4,-3,-10,-17,-24,-31,-38,-45,-52,-59,-66,-73,-80,-87,-103]],
[278,[44,35,28,21,14,7,0,-7,-14,-21,-28,-35,-42,-49,-56,-63,-70,-77,-84,-90]],
[285,[75,67,61,53,44,36,29,18,11,4,-3,-10,-17,-24,-31,-38,-45,-52,-59,-66,-73,-80,-87,-94,-108]],
[294,[28,21,14,7,0,-7,-14,-21,-28,-35,-42,-49,-56,-63,-70,-77,-84,-91,-98,-105,-113]],
[300,[38,32,25,18,11,4,-3,-10,-17,-24,-31,-38,-45,-52,-59,-66,-73,-80,-87,-94,-101,-122,-127]],
[308,[34,28,21,14,7,0,-7,-14,-21,-28,-35,-42,-49,-56,-63,-70,-77,-84,-91,-98,-110]],
[315,[-17,-24,-31,-38,-45,-52,-59,-66,-76]],
[322,[40,35,28,21,14,7,0,-7,-14,-21,-28,-35,-42,-49,-56,-63,-70,-87,-94,-101,-109]],
[329,[36,32,25,18,11,4,-3,-10,-17,-24,-31,-38,-45,-52,-59,-66,-73,-86]],
[334,[59,49,41,28,21,14,7,0,-7,-14,-21,-28,-35,-42,-49,-56,-63,-70,-77,-84,-91,-98,-105,-112,-125,-133,-140]],
[343,[5,-3,-10,-17,-24,-31,-38,-45,-52,-59,-66,-73,-80,-87,-94,-101,-108,-118]],
[350,[14,7,0,-7,-14,-21,-28,-35,-42,-49,-56,-63,-70,-77,-84,-91,-98]],
[354,[32,25,18,11,4,-3,-10,-17,-24,-31,-38,-45,-52,-59,-66,-73,-80,-87,-94,-101,-108,-115,-122,-129,-136,-143,-149]],
[358,[32,28,21,14,7,0,-7,-14,-21,-28,-35,-42,-49,-56,-63,-70,-77,-86]],
[361,[9,4,-3,-10,-17,-24,-31,-38,-45,-52,-59,-66,-73,-84]]
];

const rowTop={svgTop:0,height:613,marginTop:16,marginBottom:120,domain:[-162.6,87.3]};
const rowBottom={svgTop:610,height:608,marginTop:21,marginBottom:114,domain:[-161.8,86.3]};
const colA={left:84,width:640,marginLeft:100,marginRight:14};
const colB={left:730,width:770,marginLeft:239,marginRight:11};
const colC={left:1512,width:770,marginLeft:236,marginRight:11};

const panels=[
{cols:yearCols,line:yearLine,ticks:yearTicks,xd:[-9.6,210],shift:[-3,-3,-1,0,-18],row:rowTop,col:colA,title:"Year",tx:458,ty:579,fs:45},
{cols:agcCols,line:agcLine,ticks:agcTicks,xd:[-5.6,130],shift:[-2,-3,-3,-4,-3,-3,-1],row:rowTop,col:colB,title:"Aboveground carbon (MgC/ha)",tx:1169,ty:573,fs:45},
{cols:sdcCols,line:sdcLine,ticks:sdcTicks,xd:[-3.5,76.8],shift:[-3,-3,-3,-3,-4,-3,-3,-3],row:rowTop,col:colC,title:"Standing dead carbon (MgC/ha)",tx:2008,ty:568,fs:45},
{cols:slopeCols,line:slopeLine,ticks:slopeTicks,xd:[-4,87],shift:[-3,-3,-4,-3,-3,-1,-2,-3,-3],row:rowBottom,col:colA,title:"Slope",tx:401,ty:1189,fs:45},
{cols:elevCols,line:elevLine,ticks:elevTicks,xd:[6164,12011],shift:[9,-60],row:rowBottom,col:colB,title:"Elevation (ft)",tx:1176,ty:1189,fs:45},
{cols:aspectCols,line:aspectLine,ticks:aspectTicks,xd:[-17.3,377],shift:[-3,-1,-3,-3],row:rowBottom,col:colC,title:"Aspect",tx:1985,ty:1189,fs:45}
];

const page=document.getElementById("page");
function addDiv(cls,style,text){const d=document.createElement("div");d.className=cls;Object.assign(d.style,style);if(text)d.textContent=text;page.appendChild(d);return d;}
addDiv("sep",{left:"724px",top:"8px",height:"1210px"});
addDiv("sep",{left:"1505px",top:"8px",height:"1210px"});

const axisColor="#d8d8d8", labelFont="Liberation Sans, Arial, sans-serif", labelColor="#1c1c1c";
for(const p of panels){
  const pts=p.cols.flatMap(([x,ys])=>ys.map(y=>({x,y})));
  const yLabels=yTicks.map((t,i)=>Plot.text([t],{y:d=>d,text:d=>String(d),frameAnchor:"left",textAnchor:"end",dx:-19,dy:yLabelShift[i],fontSize:35,fontFamily:labelFont,fill:labelColor}));
  const xLabels=p.ticks.map((t,i)=>Plot.text([t],{x:d=>d,text:d=>String(d),frameAnchor:"bottom",lineAnchor:"middle",dy:27,dx:p.shift[i],fontSize:35,fontFamily:labelFont,fill:labelColor}));
  const svg=Plot.plot({
    width:p.col.width,height:p.row.height,
    marginLeft:p.col.marginLeft,marginRight:p.col.marginRight,marginTop:p.row.marginTop,marginBottom:p.row.marginBottom,
    x:{domain:p.xd},y:{domain:p.row.domain},
    marks:[
      Plot.ruleX([p.xd[0]],{stroke:axisColor,strokeWidth:2}),
      Plot.ruleY([p.row.domain[0]],{stroke:axisColor,strokeWidth:2}),
      Plot.axisX({ticks:p.ticks,tickSize:5,stroke:axisColor,fill:"none",label:null}),
      Plot.axisY({ticks:yTicks,tickSize:7,stroke:axisColor,fill:"none",label:null}),
      Plot.dot(pts,{x:"x",y:"y",r:6.5,fill:"#2898df",stroke:"#2a7ab0",strokeWidth:1.2}),
      Plot.line(p.line,{x:d=>d[0],y:d=>d[1],stroke:"#0c0c0c",strokeWidth:4}),
      ...yLabels,...xLabels
    ]
  });
  svg.style.left=p.col.left+"px";svg.style.top=p.row.svgTop+"px";
  page.appendChild(svg);
  addDiv("ttl",{left:p.tx+"px",top:p.ty+"px",fontSize:p.fs+"px"},p.title);
}
addDiv("frame",{left:"78px",top:"3px",width:"2271px",height:"609px"});
addDiv("ylab",{},"Carbon debt (MgC/ha)");
</script></body></html>
